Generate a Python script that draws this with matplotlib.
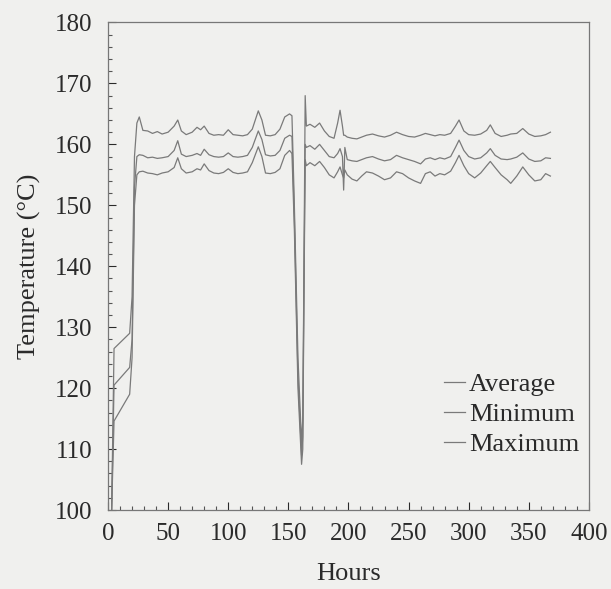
import matplotlib
matplotlib.use("Agg")
import matplotlib.pyplot as plt
from matplotlib.ticker import MultipleLocator

hours = [3, 5, 18, 20, 22, 24, 26, 29, 33, 37, 41, 45, 50, 55, 58, 61, 65, 70, 74, 77,
         80, 84, 88, 92, 96, 100, 104, 108, 112, 116, 120, 125, 128, 131, 135, 139, 143, 147, 151, 153,
         155, 158, 161, 162, 163, 164, 165, 168, 172, 176, 180, 184, 188, 191, 193, 195, 196, 197, 199, 203,
         207, 211, 215, 220, 225, 230, 235, 240, 245, 250, 255, 260, 264, 268, 272, 276, 280, 285, 289, 292,
         296, 300, 305, 310, 315, 318, 322, 327, 332, 335, 340, 345, 350, 355, 360, 364, 368]

maximum = [100, 126.5, 129, 135, 158, 163.5, 164.5, 162.3, 162.2, 161.8, 162.1, 161.7, 162, 163, 164, 162.2, 161.6, 162, 162.8, 162.4,
           163, 161.8, 161.5, 161.6, 161.5, 162.4, 161.6, 161.5, 161.4, 161.6, 162.5, 165.5, 164, 161.5, 161.4, 161.6, 162.5, 164.5, 165, 164.7,
           150, 125, 111, 115, 140, 168, 163, 163.3, 162.8, 163.5, 162.2, 161.3, 161, 163.5, 165.6, 163, 161.5, 161.5, 161.2, 161,
           160.9, 161.2, 161.5, 161.7, 161.4, 161.2, 161.5, 162, 161.6, 161.3, 161.2, 161.5, 161.8, 161.6, 161.4, 161.6, 161.5, 161.8, 163, 164,
           162.2, 161.6, 161.5, 161.7, 162.3, 163.2, 161.8, 161.3, 161.5, 161.7, 161.8, 162.6, 161.7, 161.3, 161.4, 161.6, 162]

average = [100, 120.5, 123.4, 128, 153, 158, 158.3, 158.2, 157.8, 157.9, 157.7, 157.8, 158, 159, 160.6, 158.4, 158, 158.2, 158.5, 158.2,
           159.2, 158.3, 158, 157.9, 158, 158.6, 158, 157.9, 158, 158.2, 159.5, 162.2, 160.8, 158.3, 158.1, 158.2, 159, 161, 161.5, 161.3,
           148, 122, 109, 112, 138, 160, 159.5, 159.8, 159.2, 160, 159, 158, 157.8, 158.5, 159.3, 158, 152.5, 159.5, 157.5, 157.3,
           157.2, 157.5, 157.8, 158, 157.6, 157.3, 157.5, 158.2, 157.8, 157.5, 157.2, 156.8, 157.6, 157.8, 157.5, 157.8, 157.6, 158, 159.5, 160.7,
           159, 158, 157.6, 157.8, 158.6, 159.3, 158.2, 157.6, 157.5, 157.6, 157.9, 158.6, 157.6, 157.2, 157.3, 157.8, 157.7]

minimum = [100, 114.6, 119, 125, 150, 155, 155.5, 155.6, 155.3, 155.2, 155.0, 155.3, 155.5, 156.2, 157.8, 156, 155.3, 155.5, 156, 155.8,
           156.8, 155.7, 155.3, 155.2, 155.4, 156, 155.4, 155.2, 155.3, 155.5, 157, 159.6, 158, 155.3, 155.2, 155.4, 156, 158.2, 159, 158.5,
           146, 120, 107.5, 110, 135, 157.5, 156.5, 157, 156.5, 157.2, 156.2, 155, 154.5, 155.5, 156.3, 155, 154.5, 155.8, 155, 154.3,
           154, 154.8, 155.5, 155.3, 154.8, 154.2, 154.5, 155.5, 155.2, 154.5, 154, 153.6, 155.2, 155.5, 154.8, 155.2, 155, 155.6, 157, 158.2,
           156.5, 155.2, 154.5, 155.3, 156.5, 157.2, 156.2, 155, 154.2, 153.6, 154.8, 156.3, 155, 154, 154.2, 155.2, 154.8]

series_labels = ["Average", "Minimum", "Maximum"]

plt.rcParams['font.family'] = ['Liberation Serif', 'DejaVu Serif']

bg = '#f0f0ee'
txt = '#2a2a2a'
fig = plt.figure(figsize=(6.11, 5.89), dpi=100, facecolor=bg)
ax = fig.add_axes([0.1768, 0.1341, 0.787, 0.8277])
ax.set_facecolor(bg)

lc = '#7a7a7a'
ax.plot(hours, average, color=lc, lw=0.9, label=series_labels[0])
ax.plot(hours, minimum, color=lc, lw=0.9, label=series_labels[1])
ax.plot(hours, maximum, color=lc, lw=0.9, label=series_labels[2])

ax.set_xlim(0, 400)
ax.set_ylim(100, 180)
ax.xaxis.set_major_locator(MultipleLocator(50))
ax.xaxis.set_minor_locator(MultipleLocator(10))
ax.yaxis.set_major_locator(MultipleLocator(10))
ax.yaxis.set_minor_locator(MultipleLocator(2))
ax.tick_params(which='both', direction='in', color='#555555', top=False, right=False)
ax.tick_params(which='major', length=6, width=0.8, labelsize=18, colors=txt)
ax.tick_params(axis='y', which='major', pad=11)
ax.tick_params(axis='x', which='major', pad=9)
ax.tick_params(which='minor', length=3, width=0.8)
for s in ax.spines.values():
    s.set_color('#777777')
    s.set_linewidth(0.9)

ax.set_xlabel('Hours', fontsize=19, color=txt, labelpad=13)
ax.set_ylabel('Temperature (°C)', fontsize=19, color=txt, labelpad=10)

leg = ax.legend(loc='upper left', bbox_to_anchor=(0.698, 0.282), frameon=False,
                fontsize=19, handlelength=0.8, handletextpad=0.15, labelspacing=0.25,
                borderaxespad=0, borderpad=0)
for t in leg.get_texts():
    t.set_color(txt)

fig.savefig('out.png', dpi=100, facecolor=bg)
